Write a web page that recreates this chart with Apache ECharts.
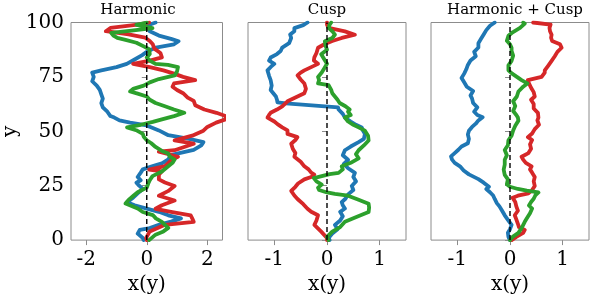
<!DOCTYPE html>
<html>
<head>
<meta charset="utf-8">
<script src="https://cdn.jsdelivr.net/npm/echarts@6/dist/echarts.min.js"></script>
<style>html,body{margin:0;padding:0;background:#fff}#c{width:592px;height:300px}</style>
</head>
<body>
<div id="c"></div>
<script>
// ---- Data (x as a function of y) ----
const panelTitles = ['Harmonic', 'Cusp', 'Harmonic + Cusp'];
const yTickLabels = [0, 25, 50, 75, 100];
const xTicksHarm = [-2, 0, 2];
const xTicksCusp = [-1, 0, 1];

// Harmonic
const harmBlueY = [0,1,3,4.7,5.5,7,8.5,10,11.4,13,14.5,16,17.4,19.5,21.5,23.5,25,26.4,27.5,29,31,32.5,34,35.3,37,39.2,41.5,43.5,45,46.5,48.2,50.4,52.7,54,55,56.3,57,59,61,63,65,67,69,71,73,75,77,78,79.5,81,83,85,86.5,88.5,90,91.4,92.5,94,96,98.5,100];
const harmBlueX = [-0.1,-0.13,-0.3,-0.23,0.1,0.4,0.8,1.13,0.71,0.4,0.0,-0.4,-0.65,-0.45,-0.3,-0.13,-0.25,-0.34,-0.2,-0.3,-0.2,-0.13,0.2,0.5,0.7,0.82,1.55,1.8,1.87,1.4,0.71,0.4,0.0,-0.55,-0.9,-1.07,-1.2,-1.3,-1.45,-1.5,-1.45,-1.5,-1.55,-1.65,-1.8,-1.75,-1.8,-1.5,-1.0,-0.66,-0.4,-0.15,0.0,0.3,0.9,1.05,0.8,0.4,0.1,0.0,0.29];
const harmRedY = [0,1,4,7,8.4,10,11.4,13,14.4,16,18.2,20.4,22.5,24.9,26.5,27.9,30,31.6,32.4,34,36.9,38.3,40.6,41.3,44.3,45.8,48,50.3,52,54,55.5,57,58.5,60,62,64,65.5,67.5,69,70.5,72,73.5,75,76.5,78,79.5,81,82.5,84,86,88,90,91.5,93,94.5,96,97.5,99,100];
const harmRedX = [0.0,-0.02,0.1,0.6,1.55,1.5,1.45,0.8,0.29,0.5,0.92,0.4,0.7,0.92,0.6,0.4,0.4,0.5,0.08,0.6,0.82,1.03,0.4,0.92,1.55,0.92,1.5,1.87,2.0,2.29,2.6,2.6,2.3,1.9,1.6,1.55,1.35,1.2,1.0,0.85,0.9,1.6,1.2,0.9,0.55,0.1,-0.45,0.1,0.5,0.45,0.25,0.2,0.1,-0.05,-0.6,-1.35,-1.2,-0.3,0.08];
const harmGreenY = [0,2.5,4,5.6,7,8.4,10,11.5,12.9,14.5,16.8,18.5,20.4,22,24.1,26,27.5,29.4,31.5,33.9,35.5,37,38.5,39.8,41,42.8,44.5,45.9,47.5,48.8,50.5,51.8,53,54.3,55.5,57,58.5,60,61.5,63,64.5,66,67.3,68.3,69.5,71,72.5,74,75.7,77.5,79.5,80.5,81,82.5,83.9,85.5,87.7,89,90.7,92,92.9,94,95.2,96.3,97.4,98.9,100];
const harmGreenX = [0.08,0.29,0.55,0.71,0.6,0.5,0.3,0.2,-0.13,-0.3,-0.7,-0.6,-0.44,-0.3,0.0,0.05,0.1,0.19,0.5,0.71,0.85,0.92,0.75,0.71,0.5,0.29,0.15,0.0,-0.1,-0.13,-0.35,-0.65,-0.2,0.2,0.5,0.9,1.24,0.9,0.6,0.29,0.1,0.0,-0.3,-0.55,-0.45,-0.1,0.1,0.4,0.92,1.0,1.03,0.7,0.29,0.1,0.0,0.1,0.08,-0.1,-0.34,-0.7,-0.97,-1.1,-1.17,-0.5,0.19,-0.34,0.0];

// Cusp
const cuspBlueY = [0,1,3,5,7,9,11,13,14.5,16,17.4,19,21,23,24.9,27,29,30.9,33,35,36.9,39,41.3,43,45,46.5,48.8,50.5,51.8,53,54.5,56.3,58,60,61,62.8,63.3,64.5,66,67.5,69,71,73.5,75.5,78,80,81,82.5,83.9,85.5,86.9,88.5,90.5,92.9,94.5,96,97.4,98.8,100];
const cuspBlueX = [0.05,0.03,0.1,0.2,0.15,0.25,0.3,0.25,0.34,0.3,0.28,0.35,0.4,0.5,0.47,0.55,0.5,0.53,0.4,0.32,0.4,0.3,0.34,0.45,0.6,0.7,0.72,0.68,0.66,0.55,0.45,0.34,0.3,0.22,0.21,-0.78,-0.94,-0.95,-0.97,-1.02,-1.07,-1.05,-1.07,-1.1,-1.13,-1.05,-1.0,-1.1,-1.07,-0.95,-0.88,-0.85,-0.72,-0.68,-0.7,-0.62,-0.62,-0.45,-0.37];
const cuspRedY = [0,1,3.9,7,9,11.4,13,14.4,16.5,18.9,20.5,22.6,24.5,26,27.9,29,30.1,31,32.5,33.9,36,38.3,40,42,44.3,46,47.3,48.8,50.4,51.8,53.3,54.5,56.3,57.5,58.5,60,61.5,63.8,65.5,67.5,69.5,72,73.8,75.7,77,78,79.5,81,82.5,84,86,88.4,90,91.5,92.9,94.4,95.9,97.5,99,100];
const cuspRedX = [0.0,0.0,-0.11,-0.24,-0.2,-0.17,-0.3,-0.37,-0.45,-0.56,-0.62,-0.68,-0.6,-0.55,-0.43,-0.3,-0.24,-0.3,-0.35,-0.43,-0.5,-0.62,-0.6,-0.65,-0.68,-0.6,-0.56,-0.75,-0.75,-0.85,-0.94,-1.0,-1.13,-1.1,-1.07,-0.95,-0.85,-0.75,-0.6,-0.43,-0.4,-0.43,-0.5,-0.56,-0.5,-0.43,-0.3,-0.17,-0.25,-0.24,-0.2,-0.17,-0.05,0.1,0.28,0.53,0.34,0.03,0.0,0.0];
const cuspGreenY = [0,1.5,3.9,6,8.4,10,11.5,12.9,15,16.7,18.5,20.4,21.2,21.9,23,24.1,25.5,27,28.5,29.4,30.3,30.9,32.5,33.9,35.5,37.6,39.5,41.3,43.5,45.8,48,50.3,51.8,53,54.5,56.3,57.5,59,60,61.5,63,64.5,66,67.5,69,71.2,72,73.5,75,77,79,81,83,85.4,87.5,89.5,91.4,92.9,94.4,96,97.5,99,100];
const cuspGreenX = [0.03,0.0,0.1,0.25,0.34,0.5,0.65,0.79,0.8,0.79,0.6,0.4,0.15,0.0,-0.15,-0.17,-0.1,-0.2,-0.25,-0.24,0.05,0.22,0.3,0.28,0.45,0.6,0.55,0.6,0.7,0.79,0.78,0.72,0.6,0.5,0.4,0.34,0.45,0.4,0.43,0.35,0.24,0.2,0.15,0.1,0.08,0.03,-0.17,-0.15,-0.17,-0.1,-0.05,0.0,-0.05,-0.11,0.0,-0.03,-0.04,0.1,0.15,0.1,0.03,0.05,0.08];

// Harmonic + Cusp
const hcBlueY = [0,1.5,3.4,5,7,9,11.4,13.5,15.5,17,18.9,20.5,22,23.5,24.5,26.4,28,30.2,32,33.9,35.5,37,38.5,40,41.5,43,44.5,46.5,48.5,50.3,52,53.5,55,56.5,57.5,59,61,63,65,66.5,68.5,70.5,72.5,74.5,76.5,78.5,80.5,82.5,84.5,86.5,88.5,90.5,92.5,94.5,96.5,98.5,100];
const hcBlueX = [0.0,-0.03,-0.04,0.0,0.03,-0.03,-0.1,-0.15,-0.2,-0.25,-0.29,-0.32,-0.38,-0.45,-0.4,-0.5,-0.6,-0.78,-0.88,-0.95,-1.05,-1.1,-1.12,-1.05,-0.98,-0.92,-0.8,-0.78,-0.8,-0.78,-0.72,-0.65,-0.6,-0.52,-0.62,-0.68,-0.62,-0.7,-0.72,-0.75,-0.7,-0.82,-0.87,-0.92,-0.87,-0.83,-0.8,-0.75,-0.65,-0.68,-0.6,-0.6,-0.55,-0.5,-0.45,-0.38,-0.29];
const hcRedY = [0,1.5,3.3,4.7,6,7.5,9.5,11.4,13.5,15.5,17.5,19.5,20.4,21.5,23,24.9,27,29,31,32.5,33.9,35.5,37,38.3,40,42,44,46,47.3,49,51,53,55,56.3,58.5,60.5,62.5,64.5,66,68,70,72,73.5,75,77,78,80,82.4,84.5,86.5,88.4,90,91.5,93,94.4,96,97.5,99,99.6,100];
const hcRedX = [0.03,0.12,0.25,0.28,0.17,0.15,0.12,0.09,0.15,0.12,0.1,0.05,0.15,0.35,0.42,0.47,0.45,0.47,0.42,0.38,0.41,0.3,0.25,0.22,0.35,0.4,0.38,0.42,0.34,0.42,0.47,0.55,0.52,0.54,0.53,0.45,0.45,0.4,0.47,0.45,0.4,0.36,0.34,0.6,0.66,0.66,0.72,0.79,0.85,0.9,0.98,0.95,0.8,0.78,0.79,0.76,0.75,0.77,0.78,0.44];
const hcGreenY = [0,1.5,3.3,5.5,8.4,10,12.3,14.5,15.9,17.5,19,20.5,21.9,22.7,23.5,24.5,25.7,27.9,30,32.4,34.7,36.9,39,41.4,43.6,45.9,48,50.4,52.6,54.9,56.3,57.5,59.3,61.6,63.8,64.5,66,68.3,70.5,72,73.5,75,76.5,78,80.3,82.4,84.8,87,88.4,90,91.6,93.9,95.5,97.5,99.5,100];
const hcGreenX = [0.0,0.05,0.16,0.22,0.28,0.32,0.38,0.42,0.36,0.4,0.45,0.48,0.54,0.32,0.15,0.0,-0.06,-0.04,-0.1,-0.12,-0.1,-0.1,-0.06,-0.1,-0.04,-0.03,0.03,0.06,0.1,0.16,0.15,0.12,0.06,0.1,0.06,0.09,0.13,0.16,0.25,0.33,0.22,0.13,0.04,-0.03,-0.03,0.03,0.06,0.03,0.03,0.0,-0.06,-0.03,0.05,0.19,0.28,0.25];

// ---- Build chart ----
const COLORS = { blue: '#1f77b4', red: '#d62728', green: '#2ca02c' };
const panels = [
  { title: panelTitles[0], xmin: -2.5, xmax: 2.5, ticks: xTicksHarm,
    lines: [[harmBlueY, harmBlueX, 'blue'], [harmRedY, harmRedX, 'red'], [harmGreenY, harmGreenX, 'green']] },
  { title: panelTitles[1], xmin: -1.5, xmax: 1.5, ticks: xTicksCusp,
    lines: [[cuspBlueY, cuspBlueX, 'blue'], [cuspRedY, cuspRedX, 'red'], [cuspGreenY, cuspGreenX, 'green']] },
  { title: panelTitles[2], xmin: -1.5, xmax: 1.5, ticks: xTicksCusp,
    lines: [[hcBlueY, hcBlueX, 'blue'], [hcRedY, hcRedX, 'red'], [hcGreenY, hcGreenX, 'green']] }
];
const gridLefts = [64.5, 248, 431];
const titleCenters = [138, 327, 515];
const GW = 158, GT = 22.5, GH = 223;
const FONT = 'DejaVu Serif';

const grid = [], xAxis = [], yAxis = [], series = [], title = [];
panels.forEach((p, i) => {
  grid.push({ left: gridLefts[i], top: GT, width: GW, height: GH, show: true,
    borderColor: '#8c8c8c', borderWidth: 1, backgroundColor: 'transparent', containLabel: false });
  title.push({ text: p.title, left: titleCenters[i], top: 3, textAlign: 'center', padding: 0,
    textStyle: { fontFamily: FONT, fontSize: 15, fontWeight: 'normal', color: '#000' } });
  xAxis.push({ type: 'value', gridIndex: i, min: p.xmin, max: p.xmax,
    name: 'x(y)', nameLocation: 'middle', nameGap: 28,
    nameTextStyle: { fontFamily: FONT, fontSize: 20, color: '#000' },
    axisLine: { show: false }, splitLine: { show: false },
    axisTick: { show: true, inside: false, length: 5, customValues: p.ticks, lineStyle: { color: '#8c8c8c', width: 1 } },
    axisLabel: { show: true, customValues: p.ticks, margin: 10, fontFamily: FONT, fontSize: 20, color: '#000' } });
  yAxis.push({ type: 'value', gridIndex: i, min: 0, max: 100,
    name: i === 0 ? 'y' : '', nameLocation: 'middle', nameGap: 50, nameRotate: 90,
    nameTextStyle: { fontFamily: FONT, fontSize: 20, color: '#000' },
    axisLine: { show: false }, splitLine: { show: false },
    axisTick: { show: true, inside: false, length: 5, customValues: yTickLabels, lineStyle: { color: '#8c8c8c', width: 1 } },
    axisLabel: { show: i === 0, customValues: yTickLabels, margin: 7, fontFamily: FONT, fontSize: 20, color: '#000' } });
  p.lines.forEach(([ys, xs, c]) => {
    series.push({ type: 'line', xAxisIndex: i, yAxisIndex: i, showSymbol: false, symbol: 'none',
      clip: true, animation: false, z: 2,
      lineStyle: { color: COLORS[c], width: 3.8, join: 'round', cap: 'round' },
      data: ys.map((y, k) => [xs[k], y]) });
  });
  series.push({ type: 'line', xAxisIndex: i, yAxisIndex: i, symbol: 'none', animation: false, z: 3,
    lineStyle: { color: '#000', width: 1.4, type: [5, 3] }, data: [[0, 0], [0, 100]] });
});

const chart = echarts.init(document.getElementById('c'), null, { renderer: 'canvas' });
chart.setOption({ animation: false, backgroundColor: '#fff', title, grid, xAxis, yAxis, series });
</script>
</body>
</html>
